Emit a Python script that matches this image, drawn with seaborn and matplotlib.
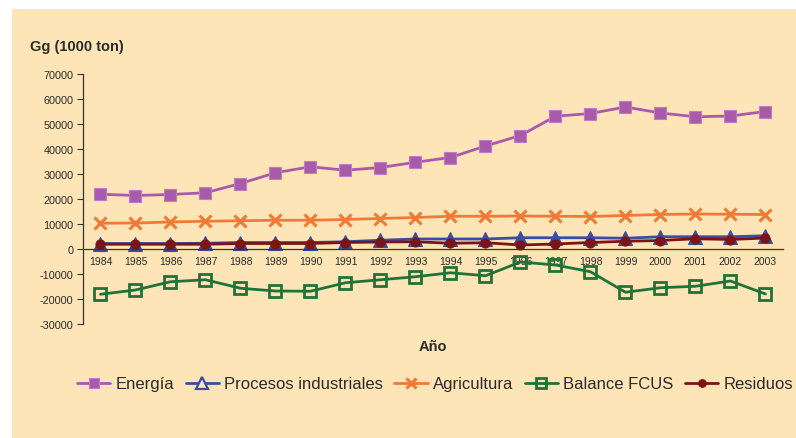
import matplotlib
matplotlib.use("Agg")
import matplotlib.pyplot as plt
from matplotlib.patches import Rectangle
import numpy as np
import pandas as pd
import seaborn as sns

years = list(range(1984, 2004))
energia = [21900, 21400, 21800, 22500, 26200, 30500, 32900, 31500, 32600, 34700,
           36600, 41200, 45400, 53100, 54200, 56800, 54400, 52900, 53200, 55000]
procesos = [2200, 2200, 2200, 2300, 2600, 2600, 2600, 2900, 3500, 4000,
            4000, 4000, 4500, 4500, 4500, 4300, 4900, 4900, 4900, 5300]
agricultura = [10300, 10400, 10800, 11100, 11300, 11500, 11500, 11800, 12200, 12600,
               13100, 13100, 13200, 13100, 13000, 13400, 13800, 14000, 13900, 13800]
balance_fcus = [-18100, -16400, -13100, -12300, -15700, -16800, -16900, -13500, -12300, -11100,
                -9500, -10700, -5200, -6400, -9100, -17300, -15500, -14900, -12800, -18000]
residuos = [1900, 1900, 1900, 1900, 2200, 2200, 2200, 2600, 2800, 2900,
            2300, 2500, 1600, 2000, 2600, 3100, 3400, 4100, 3800, 4400]

series_names = ["Energía", "Procesos industriales", "Agricultura", "Balance FCUS", "Residuos"]
series_values = [energia, procesos, agricultura, balance_fcus, residuos]

df = pd.DataFrame({"Año": years})
for name, vals in zip(series_names, series_values):
    df[name] = vals

sns.set_theme(style="white")
plt.rcParams["font.family"] = ["Liberation Sans", "DejaVu Sans"]

BG = "#FDE5B7"
TXT = "#2b2b2b"

fig = plt.figure(figsize=(7.96, 4.39), dpi=100, facecolor="white")
fig.patches.append(Rectangle((12 / 796, 0), 1 - 12 / 796, 1 - 10 / 439,
                             transform=fig.transFigure, facecolor=BG,
                             edgecolor="none", zorder=-10))

W, H = 796, 439
ax = fig.add_axes([83 / W, 1 - 325 / H, (783 - 83) / W, (325 - 75) / H])
ax.set_facecolor("none")

styles = {
    "Energía": dict(color="#A95BAB", marker="s", markersize=9, mfc="#A95BAB",
                    mec="#C27BC0", mew=0.8),
    "Procesos industriales": dict(color="#3B4DA0", marker="^", markersize=9.5,
                                  mfc="#3B4DA0", mec="#3B4DA0", mew=0.8),
    "Agricultura": dict(color="#F07A35", marker="x", markersize=9,
                        mfc="#F07A35", mec="#F07A35", mew=2.2),
    "Balance FCUS": dict(color="#1F7338", marker="s", markersize=8,
                         mfc="none", mec="#1F7338", mew=2.0),
    "Residuos": dict(color="#7A1418", marker="o", markersize=6.5,
                     mfc="#7A1418", mec="#7A1418", mew=0.8),
}

for name in series_names:
    st = styles[name]
    sns.lineplot(data=df, x="Año", y=name, ax=ax, label=name,
                 color=st["color"], linewidth=2.0, marker=st["marker"],
                 markersize=st["markersize"], markerfacecolor=st["mfc"],
                 markeredgecolor=st["mec"], markeredgewidth=st["mew"])

ax.set_xlim(years[0] - 0.5, years[-1] + 0.5)
ax.set_ylim(-30000, 70000)
ax.set_yticks(np.arange(-30000, 70001, 10000))
ax.set_yticklabels([f"{v}" for v in range(-30000, 70001, 10000)])
ax.set_xticks(years)
ax.set_xticklabels([str(y) for y in years])
ax.set_xticks(np.arange(years[0] - 0.5, years[-1] + 0.51, 1.0), minor=True)
ax.tick_params(axis="x", which="major", length=0, pad=5, labelsize=7.5,
               labelcolor=TXT)
ax.tick_params(axis="x", which="minor", length=4, width=0.8, color="#333333",
               direction="out")
ax.tick_params(axis="y", length=4, width=0.8, color="#333333", direction="out",
               pad=3, left=True, labelsize=7.8, labelcolor=TXT)

for s in ("top", "right"):
    ax.spines[s].set_visible(False)
ax.spines["bottom"].set_position(("data", 0))
for s in ("left", "bottom"):
    ax.spines[s].set_color("#333333")
    ax.spines[s].set_linewidth(0.9)

ax.set_xlabel("")
ax.set_ylabel("")

fig.text(30 / W, 1 - 47 / H, "Gg (1000 ton)", fontsize=10.5, fontweight="bold",
         color=TXT, ha="left", va="center")
fig.text(433 / W, 1 - 347 / H, "Año", fontsize=10.5, fontweight="bold",
         color=TXT, ha="center", va="center")

if ax.legend_:
    ax.legend_.remove()
handles, labels = ax.get_legend_handles_labels()
leg = fig.legend(handles, labels, loc="center", bbox_to_anchor=(435 / W, 1 - 385 / H),
                 ncol=5, frameon=False, fontsize=12, handlelength=2.0,
                 handletextpad=0.3, columnspacing=0.7, borderaxespad=0)
for t in leg.get_texts():
    t.set_color(TXT)
for h, name in zip(leg.legend_handles, labels):
    h.set_markersize(styles[name]["markersize"] * 0.85)
    if name == "Procesos industriales":
        h.set_markerfacecolor(BG)
        h.set_markeredgewidth(1.6)

fig.savefig("out.png", dpi=100, facecolor="white")
